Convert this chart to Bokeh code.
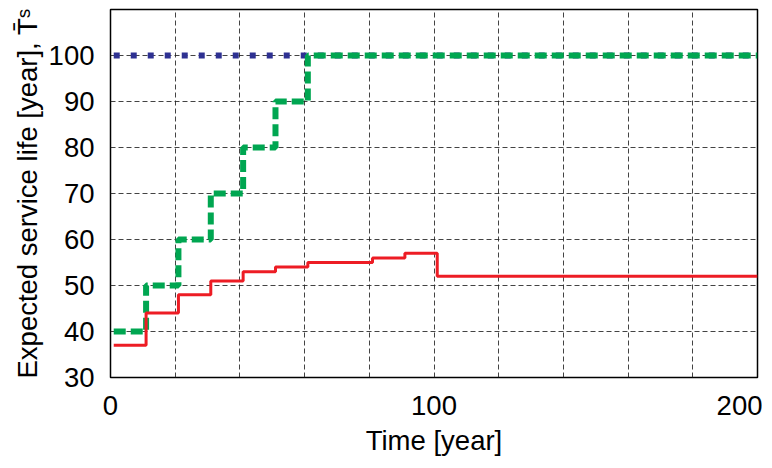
from bokeh.plotting import figure
from bokeh.models import FixedTicker, Range1d
from bokeh.embed import file_html
from bokeh.resources import INLINE

# ---- data ----
red_t = [1, 11, 21, 31, 41, 51, 61, 81, 91, 101, 200]
red_v = [37, 44, 48, 51, 53, 54, 55, 56, 57, 52, 52]
green_t = [1, 11, 21, 31, 41, 51, 61, 200]
green_v = [40, 50, 60, 70, 80, 90, 100, 100]
blue_t = [1, 200]
blue_v = [100, 100]

x_labeled_ticks = [0, 100, 200]
x_grid_ticks = [0, 20, 40, 60, 80, 100, 120, 140, 160, 180, 200]
y_ticks = [30, 40, 50, 60, 70, 80, 90, 100]

FONT = "Liberation Sans"

p = figure(width=762, height=458, output_backend="svg", toolbar_location=None,
           x_range=Range1d(0, 200), y_range=Range1d(30, 110),
           min_border_left=110, min_border_right=5, min_border_top=9,
           min_border_bottom=79)

p.step(blue_t, blue_v, mode="after", line_color="#2E3192", line_width=6,
       line_dash="6 11", line_cap="butt")
p.step(green_t, green_v, mode="after", line_color="#00A651", line_width=6,
       line_dash="12 5", line_cap="butt")
p.step(red_t, red_v, mode="after", line_color="#ED1C24", line_width=3)

p.xaxis.ticker = FixedTicker(ticks=x_labeled_ticks)
p.yaxis.ticker = FixedTicker(ticks=y_ticks)
p.xgrid.ticker = FixedTicker(ticks=x_grid_ticks)
p.ygrid.ticker = FixedTicker(ticks=y_ticks)

for g in (p.xgrid, p.ygrid):
    g.grid_line_color = "#222222"
    g.grid_line_alpha = 0.85
    g.grid_line_width = 1
    g.grid_line_dash = "5 3"

p.outline_line_color = "black"
p.outline_line_width = 1.5
p.outline_line_alpha = 1

for ax in (p.xaxis, p.yaxis):
    ax.axis_line_color = None
    ax.major_tick_line_color = None
    ax.minor_tick_line_color = None
    ax.major_label_text_font = FONT
    ax.major_label_text_font_size = "27.5px"
    ax.major_label_text_color = "black"
    ax.axis_label_text_font = FONT
    ax.axis_label_text_font_size = "27.5px"
    ax.axis_label_text_font_style = "normal"
    ax.axis_label_text_color = "black"

p.xaxis.major_label_standoff = 12
p.yaxis.major_label_standoff = 10
p.xaxis.axis_label_standoff = 7
p.yaxis.axis_label_standoff = 3
p.xaxis.axis_label = "Time [year]"
p.yaxis.axis_label = "Expected service life [year], T\u0304\u02e2"

p.background_fill_color = "white"
p.border_fill_color = "white"

open("out.html", "w").write(file_html(p, INLINE))
